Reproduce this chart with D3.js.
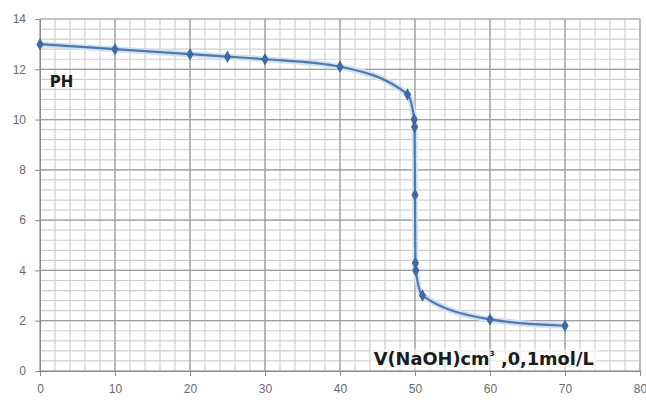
<!DOCTYPE html>
<html>
<head>
<meta charset="utf-8">
<script src="https://cdn.jsdelivr.net/npm/d3@7"></script>
<style>
  body { margin: 0; background: #fff; }
  svg { display: block; font-family: "Liberation Sans", Arial, sans-serif; }
</style>
</head>
<body>
<script>
const width = 646;
const height = 402;
const margin = {top: 19, left: 40, bottom: 31, right: 6};

// volume NaOH (cm3) and pH readings
const volumes = [0, 10, 20, 25, 30, 40, 49, 49.9, 49.95, 50, 50.05, 50.1, 51, 60, 70];
const phValues = [13, 12.8, 12.6, 12.5, 12.4, 12.1, 11, 10, 9.7, 7, 4.3, 4, 3, 2.05, 1.8];
const xTicks = [0, 10, 20, 30, 40, 50, 60, 70, 80];
const yTicks = [0, 2, 4, 6, 8, 10, 12, 14];

const x = d3.scaleLinear().domain([0, 80]).range([margin.left, width - margin.right]);
const y = d3.scaleLinear().domain([0, 14]).range([height - margin.bottom, margin.top]);

const svg = d3.select('body').append('svg').attr('width', width).attr('height', height);

// minor grid
svg.append('g')
  .attr('stroke', '#cfcfcf').attr('stroke-width', 1.2)
  .call(g => g.selectAll('line.v').data(d3.range(0, 81, 2)).join('line')
    .attr('x1', d => x(d)).attr('x2', d => x(d))
    .attr('y1', y(0)).attr('y2', y(14)))
  .call(g => g.selectAll('line.h').data(d3.range(0, 14.01, 0.4)).join('line')
    .attr('y1', d => y(d)).attr('y2', d => y(d))
    .attr('x1', x(0)).attr('x2', x(80)));

// major grid
svg.append('g')
  .attr('stroke', '#9e9e9e').attr('stroke-width', 1.2)
  .call(g => g.selectAll('line.v').data(xTicks).join('line')
    .attr('x1', d => x(d)).attr('x2', d => x(d))
    .attr('y1', y(0)).attr('y2', y(14)))
  .call(g => g.selectAll('line.h').data(yTicks).join('line')
    .attr('y1', d => y(d)).attr('y2', d => y(d))
    .attr('x1', x(0)).attr('x2', x(80)));

const xAxis = g => g
  .attr('transform', `translate(0, ${y(0)})`)
  .call(d3.axisBottom(x).tickValues(xTicks).tickSize(5).tickPadding(8))
  .call(g => g.selectAll('line, path').attr('stroke', '#8a8a8a'))
  .call(g => g.selectAll('text').attr('fill', '#6a6a6a').style('font-size', '12px'));

const yAxis = g => g
  .attr('transform', `translate(${x(0)}, 0)`)
  .call(d3.axisLeft(y).tickValues(yTicks).tickSize(5).tickPadding(9))
  .call(g => g.selectAll('line, path').attr('stroke', '#8a8a8a'))
  .call(g => g.selectAll('text').attr('fill', '#6a6a6a').style('font-size', '12px'));

svg.append('g').call(xAxis);
svg.append('g').call(yAxis);

// x label with white backing
const lbl = svg.append('g').attr('transform', `translate(${x(44.5)}, ${y(0.25)})`);
lbl.append('rect').attr('x', -3).attr('y', -16).attr('width', 226).attr('height', 21)
  .attr('fill', '#fff').attr('opacity', 0.6);
const t = lbl.append('text').attr('font-weight', 'bold').attr('font-size', '17px')
  .attr('font-family', '"DejaVu Sans", sans-serif').attr('fill', '#1a1a1a')
  .attr('textLength', 220).attr('lengthAdjust', 'spacingAndGlyphs');
t.append('tspan').text('V(NaOH)cm');
t.append('tspan').attr('font-size', '7px').attr('dy', -9).text('3');
t.append('tspan').attr('dy', 9).text(' ,0,1mol/L');

svg.append('text')
  .attr('x', x(1.3)).attr('y', y(11.3))
  .attr('font-weight', 'bold').attr('font-size', '15px')
  .attr('font-family', '"DejaVu Sans", sans-serif').attr('fill', '#1a1a1a')
  .text('PH');

const pts = volumes.map((v, i) => [v, phValues[i]]);

const line = d3.line().x(d => x(d[0])).y(d => y(d[1])).curve(d3.curveMonotoneX);

svg.append('path').datum(pts)
  .attr('fill', 'none').attr('stroke', '#cfe0f2').attr('stroke-width', 6)
  .attr('d', line);
svg.append('path').datum(pts)
  .attr('fill', 'none').attr('stroke', '#5078ad').attr('stroke-width', 2.2)
  .attr('d', line);

svg.append('g')
  .attr('fill', '#3e68a6')
  .selectAll('path').data(pts).join('path')
  .attr('transform', d => `translate(${x(d[0])}, ${y(d[1])})`)
  .attr('d', d3.symbol(d3.symbolDiamond, 45));
</script>
</body>
</html>
